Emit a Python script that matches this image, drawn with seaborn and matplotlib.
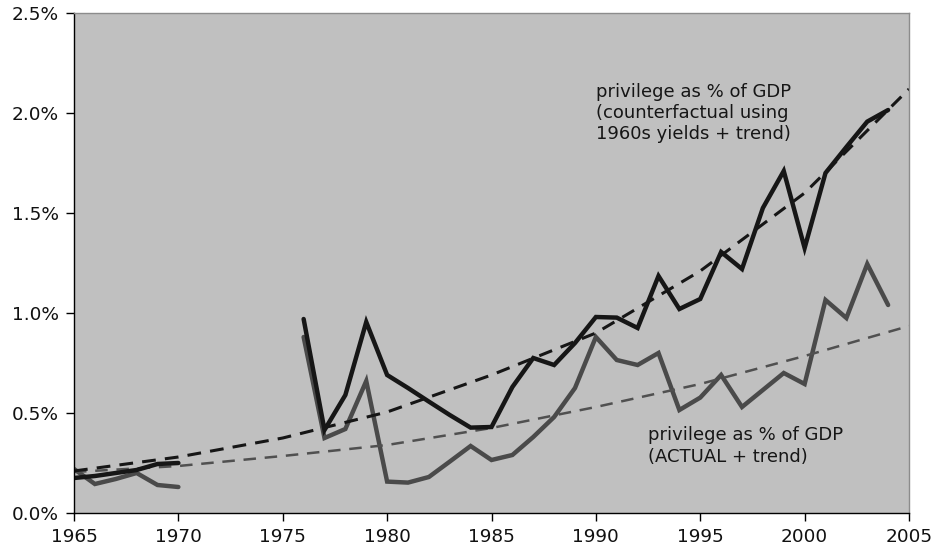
import numpy as np
import pandas as pd
import matplotlib
matplotlib.use("Agg")
import matplotlib.pyplot as plt
import seaborn as sns
from matplotlib.ticker import FuncFormatter

# ---- data (values in % of GDP) ----
years_a = [1965, 1966, 1967, 1968, 1969, 1970]
counterfactual_a = [0.175, 0.185, 0.20, 0.215, 0.245, 0.25]
actual_a = [0.22, 0.145, 0.17, 0.20, 0.14, 0.13]

years_b = list(range(1976, 2005))
counterfactual_b = [0.97, 0.415, 0.59, 0.955, 0.69, 0.625, 0.557, 0.49, 0.427, 0.43,
                    0.63, 0.775, 0.74, 0.85, 0.98, 0.977, 0.925, 1.185, 1.02, 1.07,
                    1.305, 1.22, 1.525, 1.71, 1.325, 1.70, 1.83, 1.957, 2.015]
actual_b = [0.88, 0.375, 0.42, 0.66, 0.157, 0.152, 0.18, 0.257, 0.335, 0.265,
            0.29, 0.38, 0.48, 0.625, 0.88, 0.765, 0.74, 0.80, 0.515, 0.577,
            0.69, 0.53, 0.615, 0.70, 0.645, 1.065, 0.975, 1.245, 1.04]

trend_years = [1965, 1970, 1975, 1980, 1985, 1990, 1995, 2000, 2005]
counterfactual_trend = [0.21, 0.28, 0.375, 0.505, 0.69, 0.90, 1.21, 1.60, 2.12]
actual_trend = [0.205, 0.235, 0.285, 0.34, 0.425, 0.53, 0.645, 0.785, 0.935]

x_ticks = [1965, 1970, 1975, 1980, 1985, 1990, 1995, 2000, 2005]
y_ticks = [0.0, 0.5, 1.0, 1.5, 2.0, 2.5]

label_cf = "privilege as % of GDP\n(counterfactual using\n1960s yields + trend)"
label_act = "privilege as % of GDP\n(ACTUAL + trend)"

# ---- frames ----
cf = pd.DataFrame({"year": years_a + years_b,
                   "value": counterfactual_a + counterfactual_b,
                   "seg": [0] * len(years_a) + [1] * len(years_b)})
act = pd.DataFrame({"year": years_a + years_b,
                    "value": actual_a + actual_b,
                    "seg": [0] * len(years_a) + [1] * len(years_b)})
tr = pd.DataFrame({"year": trend_years, "cf": counterfactual_trend, "act": actual_trend})

sns.set_style("white")
plt.rcParams["font.family"] = ["DejaVu Sans"]

fig = plt.figure(figsize=(9.36, 5.55), dpi=100)
ax = fig.add_axes([74 / 936, 1 - 513 / 555, (909 - 74) / 936, (513 - 13) / 555])
ax.set_facecolor("#c0c0c0")

black = "#161616"
gray = "#4a4a4a"

sns.lineplot(data=act, x="year", y="value", units="seg", estimator=None,
             color=gray, lw=3.2, ax=ax, solid_joinstyle="miter")
sns.lineplot(data=tr, x="year", y="act", color="#505050", lw=1.8,
             ax=ax, linestyle=(0, (5, 3.5)))
sns.lineplot(data=cf, x="year", y="value", units="seg", estimator=None,
             color=black, lw=3.2, ax=ax, solid_joinstyle="miter")
sns.lineplot(data=tr, x="year", y="cf", color=black, lw=2.2,
             ax=ax, linestyle=(0, (4.5, 3)))

ax.set_xlim(1965, 2005)
ax.set_ylim(0, 2.5)
ax.set_xticks(x_ticks)
ax.set_yticks(y_ticks)
ax.yaxis.set_major_formatter(FuncFormatter(lambda v, p: f"{v:.1f}%"))
ax.set_xlabel("")
ax.set_ylabel("")
ax.tick_params(axis="both", direction="out", length=6, width=1, colors="black",
               labelsize=13.3, labelcolor="#111111", left=True, bottom=True)
ax.tick_params(axis="x", pad=5)
ax.tick_params(axis="y", pad=5)

for s in ["left", "bottom"]:
    ax.spines[s].set_color("black")
    ax.spines[s].set_linewidth(1.0)
for s in ["top", "right"]:
    ax.spines[s].set_color("#8c8c8c")
    ax.spines[s].set_linewidth(1.0)

ax.text(1990.0, 2.0, label_cf, fontsize=13, color="#161616",
        va="center", ha="left", linespacing=1.22)
ax.text(1992.5, 0.335, label_act, fontsize=13, color="#161616",
        va="center", ha="left", linespacing=1.22)

fig.savefig("out.png", dpi=100)
